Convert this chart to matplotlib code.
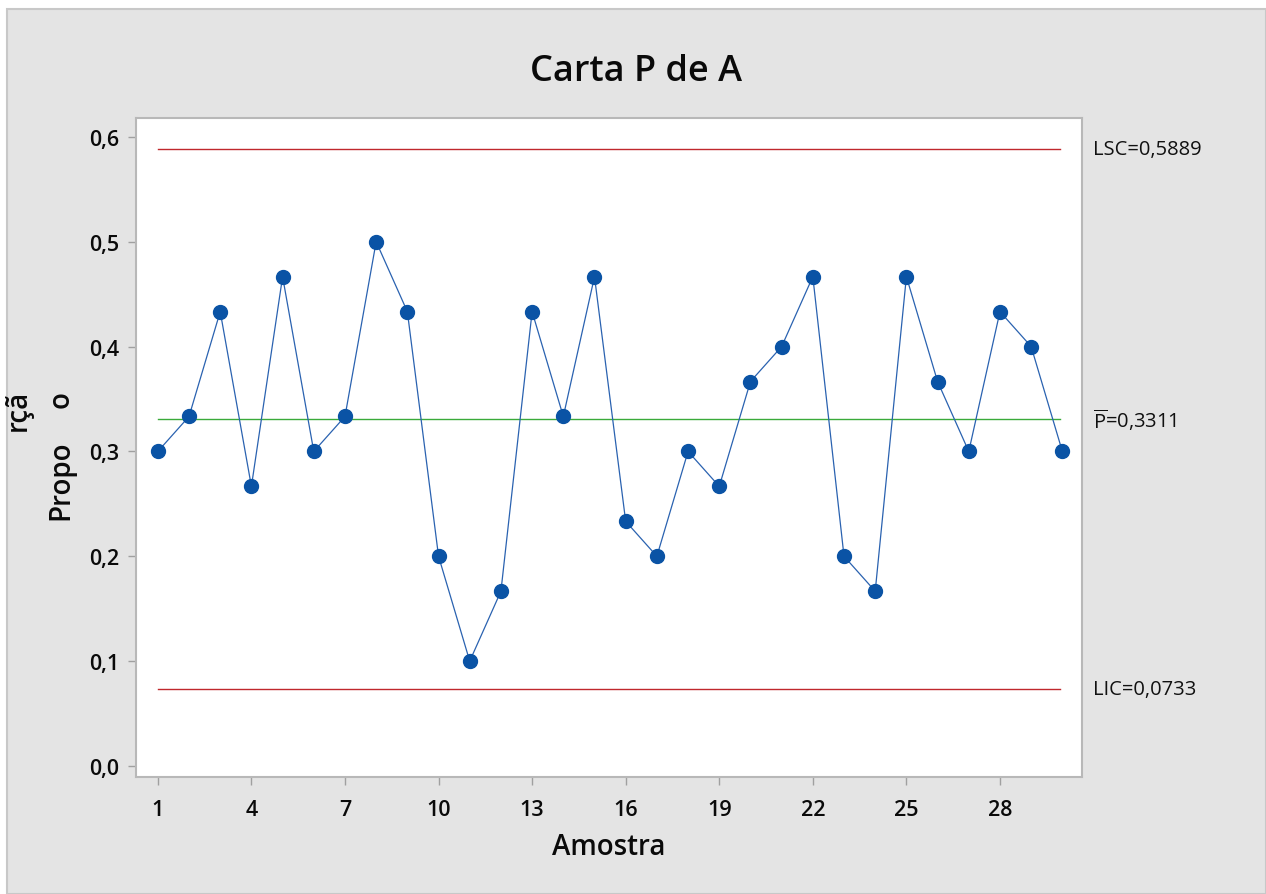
import matplotlib
matplotlib.use("Agg")
import matplotlib.pyplot as plt
from matplotlib.patches import Rectangle
import matplotlib.transforms as mtransforms

plt.rcParams['font.family'] = ['Open Sans', 'Noto Sans', 'DejaVu Sans']
plt.rcParams['mathtext.fontset'] = 'custom'
plt.rcParams['mathtext.rm'] = 'Open Sans'
plt.rcParams['mathtext.it'] = 'Open Sans:italic'
plt.rcParams['mathtext.bf'] = 'Open Sans:bold'

samples = list(range(1, 31))
counts = [9, 10, 13, 8, 14, 9, 10, 15, 13, 6, 3, 5, 13, 10, 14,
          7, 6, 9, 8, 11, 12, 14, 6, 5, 14, 11, 9, 13, 12, 9]
sample_size = 30
proportions = [c / sample_size for c in counts]
lsc = 0.5889
center = 0.3311
lic = 0.0733
x_ticks = [1, 4, 7, 10, 13, 16, 19, 22, 25, 28]
y_ticks = [0.0, 0.1, 0.2, 0.3, 0.4, 0.5, 0.6]
y_tick_labels = ["0,0", "0,1", "0,2", "0,3", "0,4", "0,5", "0,6"]
limit_labels = ["LSC=0,5889", r"$\overline{\mathrm{P}}$=0,3311", "LIC=0,0733"]

W, H = 1266, 895
fig = plt.figure(figsize=(W / 100, H / 100), dpi=100, facecolor='white')

panel = Rectangle((7 / W, 0), 1 - 7 / W, 1 - 10 / H, transform=fig.transFigure,
                  facecolor='#e4e4e4', edgecolor='#c8c8c8', linewidth=1.5, zorder=-10)
fig.patches.append(panel)

ax = fig.add_axes([136 / W, 1 - 778 / H, (1082 - 136) / W, (778 - 119) / H])
ax.set_zorder(1)
ax.set_facecolor('white')

ax.plot(samples, proportions, color='#2a62b0', linewidth=0.9, marker='o',
        markersize=10, markerfacecolor='#0a53a5', markeredgecolor='#0a53a5', zorder=3)
ax.axhline(lsc, xmin=0.023, xmax=0.977, color='#c0282d', linewidth=1.0, zorder=2)
ax.axhline(lic, xmin=0.023, xmax=0.977, color='#c0282d', linewidth=1.0, zorder=2)
ax.axhline(center, xmin=0.023, xmax=0.977, color='#3aaa3a', linewidth=1.0, zorder=2)

ax.set_xlim(0.3, 30.63)
ax.set_ylim(-0.0105, 0.618)
ax.set_xticks(x_ticks)
ax.set_xticklabels([str(t) for t in x_ticks])
ax.set_yticks(y_ticks)
ax.set_yticklabels(y_tick_labels)

for s in ax.spines.values():
    s.set_color('#b8b8b8')
    s.set_linewidth(1.5)
ax.tick_params(axis='both', direction='out', length=6, width=1, color='#a0a0a0',
               labelsize=15.5, labelcolor='#0a0a0a', pad=6)
ax.tick_params(axis='x', pad=10)
for lbl in ax.get_xticklabels() + ax.get_yticklabels():
    lbl.set_fontweight('semibold')

trans = mtransforms.blended_transform_factory(ax.transAxes, ax.transData)
for val, lab in zip([lsc, center, lic], limit_labels):
    ax.text(1.0116, val, lab, transform=trans, ha='left', va='center',
            fontsize=14.5, color='#111111', clip_on=False)

fig.text(636 / W, 1 - 72 / H, "Carta P de A", ha='center', va='center',
         fontsize=26, fontweight='semibold', color='#0a0a0a')
fig.text(609 / W, 1 - 848 / H, "Amostra", ha='center', va='center',
         fontsize=20, fontweight='semibold', color='#0a0a0a')

# y-axis label (as rendered in the reference)
fig.text(61 / W, 1 - 480 / H, "Propo", ha='center', va='center', rotation=90,
         fontsize=20, fontweight='semibold', color='#0a0a0a')
fig.text(61 / W, 1 - 400 / H, "o", ha='center', va='center', rotation=90,
         fontsize=20, fontweight='semibold', color='#0a0a0a')
fig.text(18 / W, 1 - 410 / H, "rçã", ha='center', va='center', rotation=90,
         fontsize=20, fontweight='semibold', color='#0a0a0a')

fig.savefig("out.png", dpi=100, facecolor='white')
